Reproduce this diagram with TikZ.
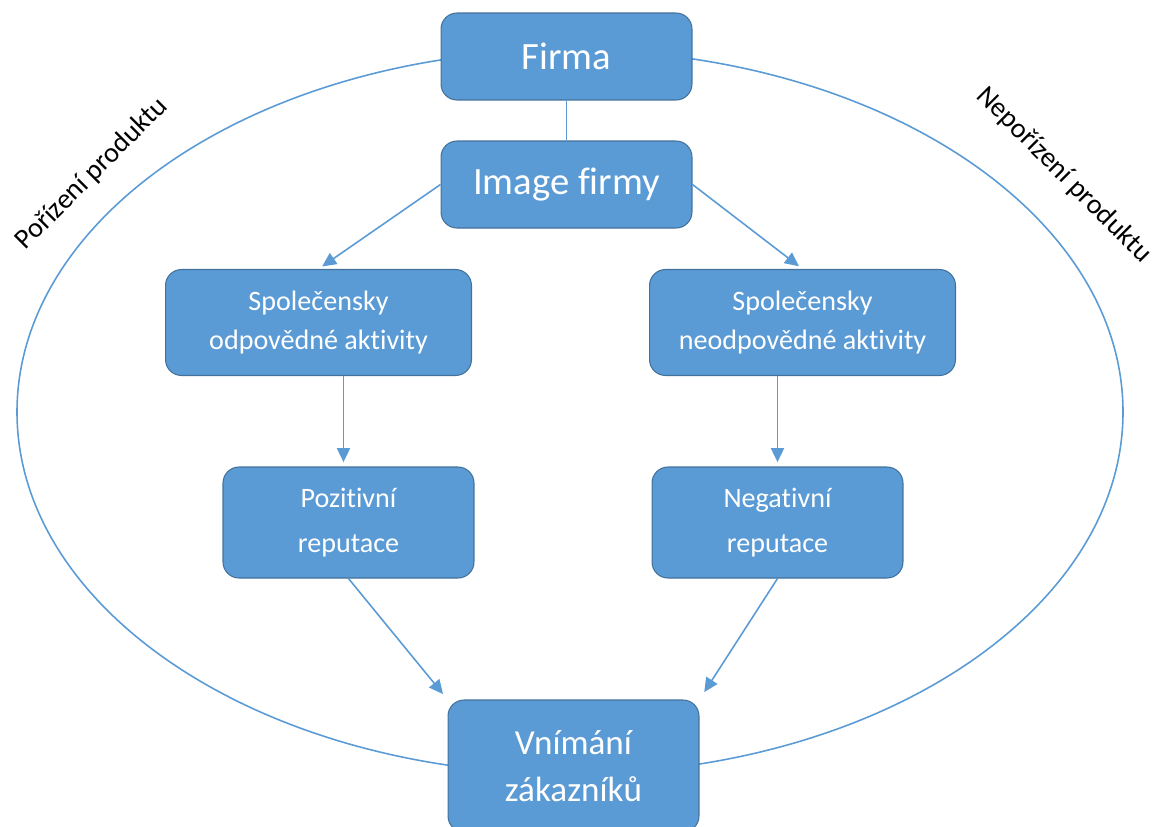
\documentclass[tikz,border=0pt]{standalone}
\usepackage{fontspec}
\setmainfont{Carlito}[Ligatures={NoCommon,NoRare}, Contextuals=NoAlternate]
\usepackage{xcolor}
\usepackage{tikz}
\usetikzlibrary{positioning,arrows.meta,calc}

\definecolor{boxblue}{HTML}{5B9BD5}
\definecolor{boxedge}{HTML}{41719C}

\begin{document}
\begin{tikzpicture}[x=0.02cm, y=-0.02cm,
  box/.style={draw=boxedge, fill=boxblue, rounded corners=0.32cm, text=white, align=center, inner sep=0pt, line width=0.6pt},
  link/.style={draw=boxblue, line width=0.9pt},
  arr/.style={link, -{Triangle[length=8pt,width=7.5pt]}, shorten >=2.5pt}]
\useasboundingbox (0,0) rectangle (1164,826);

% Outer loop
\draw[link] (570,412) ellipse [x radius=553, y radius=362];
\node[rotate=45, font=\fontsize{16}{19}\selectfont] (buy) at (92,174) {Pořízení produktu};
\node[rotate=-45, font=\fontsize{16}{19}\selectfont] (nobuy) at (1064,175) {Nepořízení produktu};

% Boxes
\node[box, minimum width=5.02cm, minimum height=1.74cm, font=\fontsize{22}{26}\selectfont] (firma) at (566.5,56.5) {Firma};
\node[box, minimum width=5.02cm, minimum height=1.74cm, font=\fontsize{22}{26}\selectfont] (image) at (566.5,184.5) {Image firmy};
\node[box, minimum width=6.12cm, minimum height=2.12cm, font=\fontsize{16}{22}\selectfont] (odp) at (318.5,322.5) {Společensky\\odpovědné aktivity};
\node[box, minimum width=6.12cm, minimum height=2.12cm, font=\fontsize{16}{22}\selectfont] (neodp) at (802.5,322.5) {Společensky\\neodpovědné aktivity};
\node[box, minimum width=5.02cm, minimum height=2.22cm, font=\fontsize{16}{25.5}\selectfont] (poz) at (348.5,522.5) {Pozitivní\\reputace};
\node[box, minimum width=5.02cm, minimum height=2.22cm, font=\fontsize{16}{25.5}\selectfont] (neg) at (777.5,522.5) {Negativní\\reputace};
\node[box, minimum width=5.02cm, minimum height=2.64cm, font=\fontsize{20}{26.6}\selectfont] (vnim) at (573.5,766) {Vnímání\\zákazníků};

% Connectors
\draw[link] (firma.south) -- (image.north);
\draw[arr] (image.west) -- (odp.north);
\draw[arr] (image.east) -- (neodp.north);
\draw[arr] ($(poz.north |- odp.south)+(-5,0)$) -- ($(poz.north)+(-5,0)$);
\draw[arr] (neg.north |- neodp.south) -- (neg.north);
\draw[arr, shorten >=4pt] (poz.south) -- (vnim.north west);
\draw[arr, shorten >=5pt] (neg.south) -- (vnim.north east);
\end{tikzpicture}
\end{document}
